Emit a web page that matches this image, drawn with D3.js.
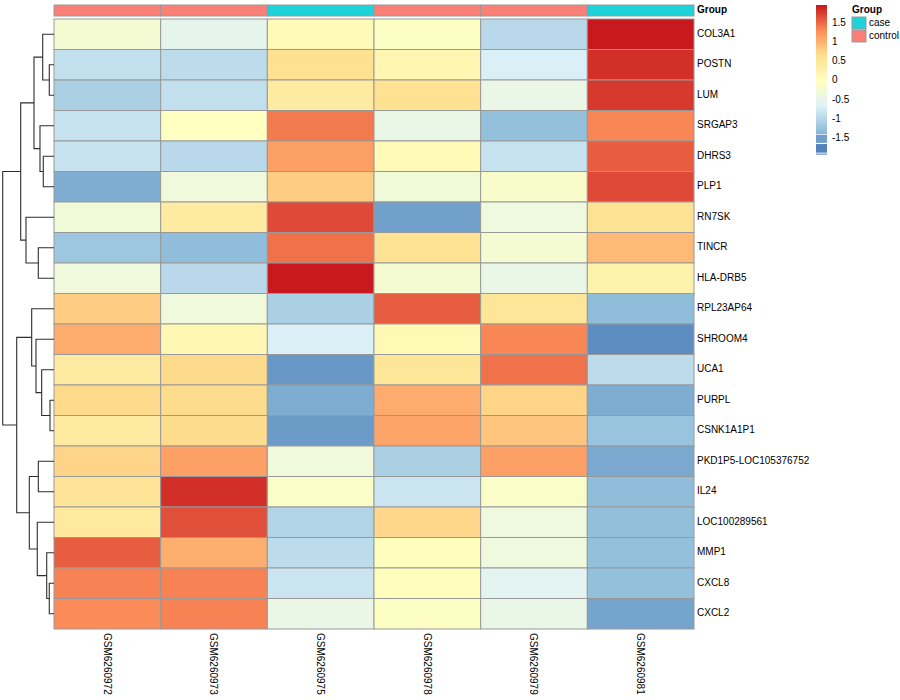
<!DOCTYPE html>
<html>
<head>
<meta charset="utf-8">
<script src="https://cdn.jsdelivr.net/npm/d3@7"></script>
<style>
  body { margin: 0; background: #fff; }
  text { font-family: "Liberation Sans", Arial, Helvetica, sans-serif; }
</style>
</head>
<body>
<script>
// ---------------- data ----------------
const genes = ["COL3A1","POSTN","LUM","SRGAP3","DHRS3","PLP1","RN7SK","TINCR","HLA-DRB5",
  "RPL23AP64","SHROOM4","UCA1","PURPL","CSNK1A1P1","PKD1P5-LOC105376752","IL24",
  "LOC100289561","MMP1","CXCL8","CXCL2"];
const samples = ["GSM6260972","GSM6260973","GSM6260975","GSM6260978","GSM6260979","GSM6260981"];
const groups = ["control","control","case","control","control","case"];
const groupLevels = ["case","control"];
const groupColors = ["#1DD2D8","#FA7F77"];

// z-scores (rows = genes, cols = samples)
const expr = [
  [-0.21, -0.52,  0.12, -0.04, -0.95,  1.97],
  [-0.88, -0.93,  0.65,  0.20, -0.68,  1.85],
  [-1.07, -0.88,  0.45,  0.65, -0.42,  1.79],
  [-0.84,  0.00,  1.43, -0.42, -1.26,  1.36],
  [-0.84, -0.95,  1.18,  0.12, -0.84,  1.59],
  [-1.44, -0.30,  0.83, -0.27, -0.12,  1.70],
  [-0.27,  0.45,  1.70, -1.55, -0.33,  0.62],
  [-1.18, -1.30,  1.47,  0.62, -0.21,  0.97],
  [-0.30, -0.95,  1.97, -0.18, -0.42,  0.30],
  [ 0.83, -0.30, -1.07,  1.59,  0.55, -1.30],
  [ 1.08,  0.18, -0.68,  0.15,  1.36, -1.72],
  [ 0.45,  0.72, -1.62,  0.55,  1.47, -0.93],
  [ 0.72,  0.70, -1.44,  1.08,  0.76, -1.44],
  [ 0.45,  0.70, -1.60,  1.13,  0.88, -1.22],
  [ 0.76,  1.17, -0.30, -1.07,  1.17, -1.48],
  [ 0.58,  1.85, -0.08, -0.80, -0.08, -1.30],
  [ 0.48,  1.67, -1.02,  0.74, -0.33, -1.27],
  [ 1.59,  1.05, -0.93,  0.05, -0.33, -1.26],
  [ 1.38,  1.38, -0.80,  0.05, -0.55, -1.26],
  [ 1.33,  1.38, -0.42, -0.04, -0.42, -1.52]
];

// row dendrogram: [mergeHeight, left, right]
const rowTree = [10.0,
  [6.49,
    [3.90,
      [2.20, "COL3A1", [0.92, "POSTN", "LUM"]],
      [2.73, "SRGAP3", [2.09, "DHRS3", "PLP1"]]],
    [5.46, "RN7SK", [3.06, "TINCR", "HLA-DRB5"]]],
  [7.27,
    [4.35, "RPL23AP64", [3.51, "SHROOM4", [2.40, "UCA1", [0.78, "PURPL", "CSNK1A1P1"]]]],
    [4.81,
      [3.06, "PKD1P5-LOC105376752", "IL24"],
      [3.26, "LOC100289561", [1.42, "MMP1", [0.92, "CXCL8", "CXCL2"]]]]]];

const colorStops = [-1.93, -1.28, -0.63, 0.02, 0.67, 1.32, 1.97];
const colorRange = ["#4575B4","#91BFDB","#E0F3F8","#FFFFBF","#FEE090","#FC8D59","#C81A1E"];
const legendTicks = [-1.5, -1, -0.5, 0, 0.5, 1, 1.5];

// ---------------- drawing ----------------
const W = 900, H = 700;
const svg = d3.select("body").append("svg").attr("width", W).attr("height", H);

const color = d3.scaleLinear().domain(colorStops).range(colorRange).interpolate(d3.interpolateRgb).clamp(true);
const x = d3.scaleBand().domain(samples).range([54, 694]);
const y = d3.scaleBand().domain(genes).range([19, 629]);
const border = "#999999";

// heatmap cells
const cells = [];
expr.forEach((row, i) => row.forEach((v, j) => cells.push({g: genes[i], s: samples[j], v})));
svg.append("g").selectAll("rect").data(cells).join("rect")
  .attr("x", d => x(d.s)).attr("y", d => y(d.g))
  .attr("width", x.bandwidth()).attr("height", y.bandwidth())
  .attr("fill", d => color(d.v))
  .attr("stroke", border).attr("stroke-width", 1);

// annotation bar
const gColor = d3.scaleOrdinal().domain(groupLevels).range(groupColors);
svg.append("g").selectAll("rect").data(samples).join("rect")
  .attr("x", d => x(d)).attr("y", 5)
  .attr("width", x.bandwidth()).attr("height", 11)
  .attr("fill", (d, i) => gColor(groups[i]))
  .attr("stroke", border).attr("stroke-width", 1);
svg.append("text").attr("x", 697).attr("y", 10.5).attr("dominant-baseline", "middle")
  .attr("font-size", 10).attr("font-weight", "bold").text("Group");

// row labels
svg.append("g").selectAll("text").data(genes).join("text")
  .attr("x", 697).attr("y", d => y(d) + y.bandwidth() / 2)
  .attr("dominant-baseline", "middle").attr("font-size", 10).attr("fill", "#000")
  .text(d => d);

// column labels (rotated)
svg.append("g").selectAll("text").data(samples).join("text")
  .attr("transform", d => `translate(${x(d) + x.bandwidth() / 2 - 3.6},633) rotate(90)`)
  .attr("font-size", 10).attr("fill", "#000")
  .text(d => d);

// dendrogram
function build(node) {
  if (typeof node === "string") return {name: node, h: 0};
  return {h: node[0], children: [build(node[1]), build(node[2])]};
}
const root = d3.hierarchy(build(rowTree));
const hx = d3.scaleLinear().domain([0, 10]).range([54, 2.7]);
root.eachAfter(n => {
  if (!n.children) n.py = y(n.data.name) + y.bandwidth() / 2;
  else n.py = (n.children[0].py + n.children[1].py) / 2;
  n.px = hx(n.data.h);
});
const dg = svg.append("g").attr("fill", "none").attr("stroke", "#2e2e2e").attr("stroke-width", 1.1);
root.descendants().filter(n => n.children).forEach(n => {
  const [a, b] = n.children;
  dg.append("path").attr("d",
    `M${a.px},${a.py}H${n.px}V${b.py}H${b.px}`);
});

// colour legend
const ly = d3.scaleLinear().domain([-1.5, 1.5]).range([138.3, 23.3]);
const lg = svg.append("g");
const topV = ly.invert(5), gradBottom = ly.invert(134);
const nSteps = 129;
const steps = d3.range(nSteps).map(k => topV - (topV - gradBottom) * k / nSteps);
lg.selectAll("rect.grad").data(steps).join("rect").attr("class", "grad")
  .attr("x", 816).attr("width", 11)
  .attr("y", d => ly(d)).attr("height", 1.2)
  .attr("fill", d => color(d));
const blocks = [{a: -1.41, b: -1.62}, {a: -1.65, b: -1.875}, {a: -1.9, b: -1.925}];
lg.selectAll("rect.blk").data(blocks).join("rect").attr("class", "blk")
  .attr("x", 816).attr("width", 11)
  .attr("y", d => ly(d.a)).attr("height", d => ly(d.b) - ly(d.a))
  .attr("fill", d => color((d.a + d.b) / 2 - 0.05));
lg.selectAll("text").data(legendTicks).join("text")
  .attr("x", 832).attr("y", d => ly(d)).attr("dominant-baseline", "middle")
  .attr("font-size", 10).text(d => String(d));

// group legend
const gl = svg.append("g");
gl.append("text").attr("x", 852).attr("y", 10).attr("dominant-baseline", "middle")
  .attr("font-size", 10).attr("font-weight", "bold").text("Group");
gl.selectAll("rect").data(groupLevels).join("rect")
  .attr("x", 852).attr("y", (d, i) => 17 + i * 13).attr("width", 14).attr("height", 12)
  .attr("fill", d => gColor(d)).attr("stroke", border).attr("stroke-width", 1);
gl.selectAll("text.lab").data(groupLevels).join("text").attr("class", "lab")
  .attr("x", 869).attr("y", (d, i) => 23.5 + i * 13).attr("dominant-baseline", "middle")
  .attr("font-size", 10).text(d => d);
</script>
</body>
</html>
